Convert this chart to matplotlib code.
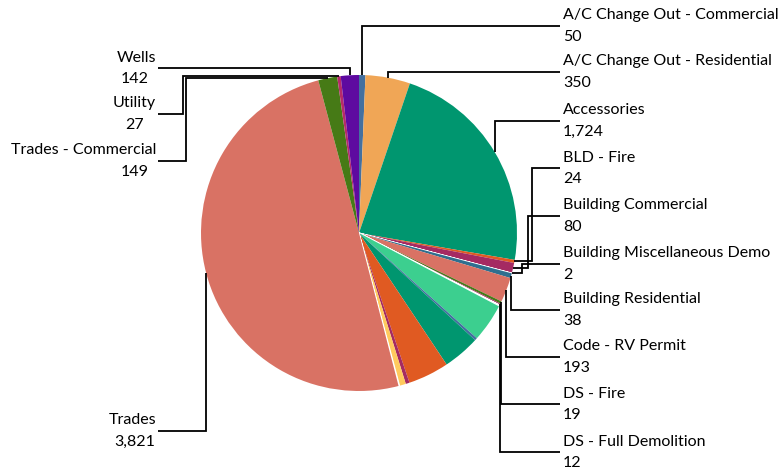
import math
import matplotlib
matplotlib.use('Agg')
import matplotlib.pyplot as plt

# permit counts by type (pie drawn clockwise from 12 o'clock)
categories = [
    'A/C Change Out - Commercial', 'A/C Change Out - Residential', 'Accessories',
    'BLD - Fire', 'Building Commercial', 'Building Miscellaneous Demo',
    'Building Residential', 'Code - RV Permit', 'DS - Fire', 'DS - Full Demolition',
    'DS - Partial Demolition', 'DS - Shed', 'DS - Pool', 'Electrical', 'Fence',
    'Mechanical', 'Plumbing', 'Pool', 'Roofing', 'Sign',
    'Trades', 'Trades - Commercial', 'Utility', 'Wells',
]
values = [50, 350, 1724, 24, 80, 2, 38, 193, 19, 12,
          4, 4, 4, 300, 20, 290, 320, 30, 50, 8,
          3821, 149, 27, 142]
colors = ['#44709f', '#f0a656', '#00966f', '#e05a22', '#a52a62', '#ffffff',
          '#2f6f8f', '#d97264', '#467a16', '#a52a62',
          '#7f7f7f', '#7f7f7f', '#7f7f7f', '#3ccf8f', '#44709f',
          '#00966f', '#e05a22', '#a52a62', '#ffca5e', '#ffffff',
          '#d97264', '#467a16', '#b72a6a', '#5e0aa0']
white_edge = {'Building Miscellaneous Demo', 'DS - Partial Demolition',
              'DS - Shed', 'DS - Pool', 'Sign'}

# labelled slices: (category, side, label line y in px from top, elbow x or None)
labels = [
    ('A/C Change Out - Commercial', 'R', 26, None),
    ('A/C Change Out - Residential', 'R', 72, None),
    ('Accessories', 'R', 121, None),
    ('BLD - Fire', 'R', 168, 532),
    ('Building Commercial', 'R', 216, 528),
    ('Building Miscellaneous Demo', 'R', 264, 522),
    ('Building Residential', 'R', 310, None),
    ('Code - RV Permit', 'R', 357, None),
    ('DS - Fire', 'R', 404, None),
    ('DS - Full Demolition', 'R', 452, None),
    ('Wells', 'L', 68, None),
    ('Utility', 'L', 114, 183),
    ('Trades - Commercial', 'L', 161, 186),
    ('Trades', 'L', 431, None),
]

W, H = 779, 475
CX, CY, R = 359, H - 233, 158
RIGHT_X, LEFT_X, LEFT_VAL_X = 560, 158, 135
FS = 11.5

plt.rcParams['font.family'] = ['Lato', 'DejaVu Sans']

fig = plt.figure(figsize=(W / 100, H / 100), dpi=100)
ax = fig.add_axes([0, 0, 1, 1])
wedges, _ = ax.pie(values, colors=colors, startangle=90, counterclock=False,
                   center=(CX, CY), radius=R, frame=True,
                   wedgeprops=dict(linewidth=0))
for w, c in zip(wedges, categories):
    if c in white_edge:
        w.set_edgecolor('white')
        w.set_linewidth(0.8)

for cat, side, ly, elbow in labels:
    i = categories.index(cat)
    w = wedges[i]
    mid = math.radians((w.theta1 + w.theta2) / 2)
    ax_x = CX + R * math.cos(mid)
    ax_y = CY + R * math.sin(mid)
    y = H - ly
    end_x = RIGHT_X if side == 'R' else LEFT_X
    if elbow is None:
        xs = [ax_x, ax_x, end_x]
        ys = [ax_y, y, y]
    else:
        xs = [ax_x, elbow, elbow, end_x]
        ys = [ax_y, ax_y, y, y]
    ax.plot(xs, ys, color='black', lw=1.3, solid_capstyle='butt',
            solid_joinstyle='miter', zorder=5)
    val = f'{values[i]:,}'
    if side == 'R':
        ax.text(end_x + 3, y + 10.5, cat, ha='left', va='center', fontsize=FS)
        ax.text(end_x + 3, y - 11, val, ha='left', va='center', fontsize=FS)
    else:
        ax.text(end_x - 2, y + 10.5, cat, ha='right', va='center', fontsize=FS)
        ax.text(LEFT_VAL_X, y - 11, val, ha='center', va='center', fontsize=FS)

ax.set_xlim(0, W)
ax.set_ylim(0, H)
ax.set_aspect('auto')
ax.axis('off')

fig.savefig('out.png', dpi=100, facecolor='white')
